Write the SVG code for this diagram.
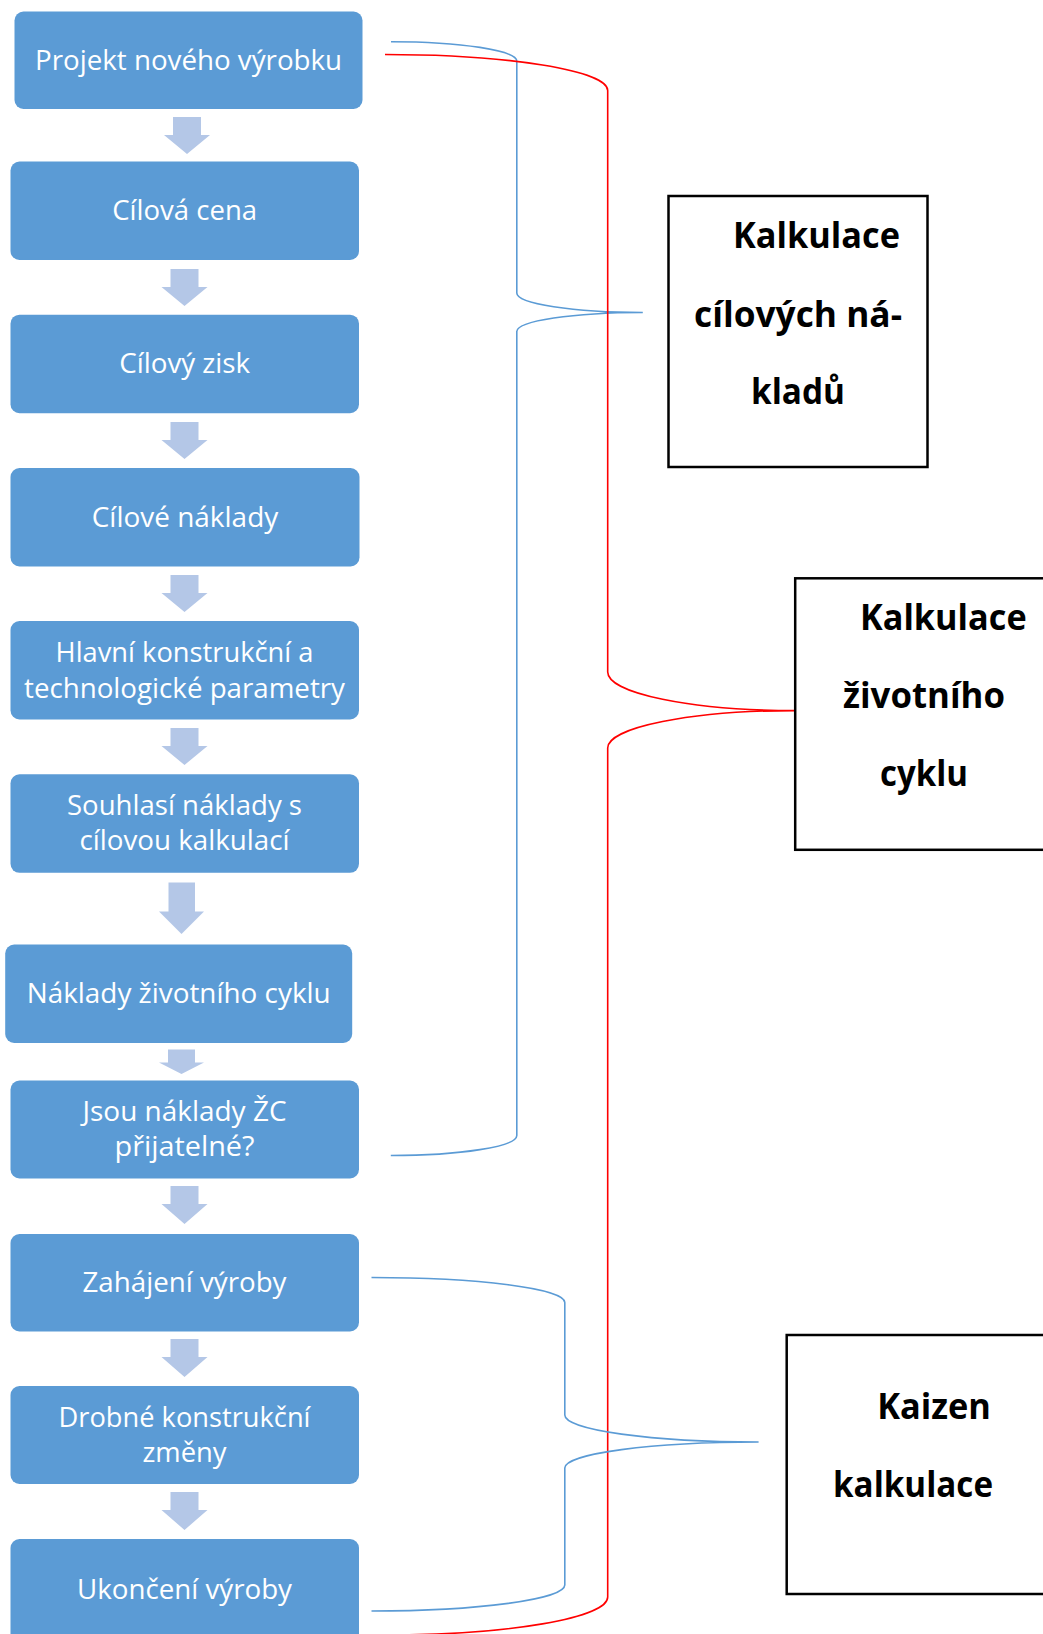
<svg xmlns="http://www.w3.org/2000/svg" width="1043" height="1634" viewBox="0 0 1043 1634">
<style>
.box{fill:#5B9BD5;}
.arr{fill:#B4C7E7;}
.t{font-family:"Open Sans","Liberation Sans",sans-serif;font-size:27px;fill:#FFFFFF;text-anchor:middle;}
.rb{fill:#FFFFFF;stroke:#000000;stroke-width:2.5;}
.bt{font-family:"Open Sans","Liberation Sans",sans-serif;font-size:35px;font-weight:bold;fill:#000000;text-anchor:middle;}
.blue{fill:none;stroke:#5B9BD5;stroke-width:1.6;}
.red{fill:none;stroke:#FF0000;stroke-width:1.6;}
</style>
<rect width="1043" height="1634" fill="#FFFFFF"/>

<g id="arrows">
<path class="arr" d="M173 117 H201 V135 H210 L187 154 L164 135 H173 Z"/>
<path class="arr" d="M170.5 269 H198.5 V287 H207.5 L184.5 306 L161.5 287 H170.5 Z"/>
<path class="arr" d="M170.5 422 H198.5 V440 H207.5 L184.5 459 L161.5 440 H170.5 Z"/>
<path class="arr" d="M170.5 575 H198.5 V593 H207.5 L184.5 612 L161.5 593 H170.5 Z"/>
<path class="arr" d="M170.5 728 H198.5 V746 H207.5 L184.5 765 L161.5 746 H170.5 Z"/>
<path class="arr" d="M168.5 882.5 H195 V911.5 H204 L181.5 934 L159 911.5 H168.5 Z"/>
<path class="arr" d="M168 1049.5 H195 V1062.5 H204 L181.5 1074 L159 1062.5 H168 Z"/>
<path class="arr" d="M170.5 1186 H198.5 V1204 H207.5 L184.5 1224 L161.5 1204 H170.5 Z"/>
<path class="arr" d="M170.5 1339 H198.5 V1357 H207.5 L184.5 1377 L161.5 1357 H170.5 Z"/>
<path class="arr" d="M170.5 1492 H198.5 V1510 H207.5 L184.5 1530 L161.5 1510 H170.5 Z"/>
</g>

<g id="n1"><rect class="box" x="14.5" y="11.5" width="348" height="97.5" rx="9"/>
<text class="t" x="188.6" y="70" textLength="307" lengthAdjust="spacingAndGlyphs">Projekt nového výrobku</text></g>
<g id="n2"><rect class="box" x="10.5" y="161.5" width="348.5" height="98.5" rx="9"/>
<text class="t" x="184.7" y="220" textLength="145" lengthAdjust="spacingAndGlyphs">Cílová cena</text></g>
<g id="n3"><rect class="box" x="10.5" y="314.7" width="348.5" height="98.5" rx="9"/>
<text class="t" x="184.7" y="373.2" textLength="131" lengthAdjust="spacingAndGlyphs">Cílový zisk</text></g>
<g id="n4"><rect class="box" x="10.5" y="468" width="349" height="98.5" rx="9"/>
<text class="t" x="185" y="526.5" textLength="186.5" lengthAdjust="spacingAndGlyphs">Cílové náklady</text></g>
<g id="n5"><rect class="box" x="10.5" y="621" width="348.5" height="98.5" rx="9"/>
<text class="t" x="184.5" y="662" textLength="258" lengthAdjust="spacingAndGlyphs">Hlavní konstrukční a</text>
<text class="t" x="184.5" y="697.5" textLength="321" lengthAdjust="spacingAndGlyphs">technologické parametry</text></g>
<g id="n6"><rect class="box" x="10.5" y="774.3" width="348.5" height="98.5" rx="9"/>
<text class="t" x="184.5" y="815" textLength="235" lengthAdjust="spacingAndGlyphs">Souhlasí náklady s</text>
<text class="t" x="184.5" y="850" textLength="210" lengthAdjust="spacingAndGlyphs">cílovou kalkulací</text></g>
<g id="n7"><rect class="box" x="5.2" y="944.5" width="347" height="98.5" rx="9"/>
<text class="t" x="178.7" y="1002.5" textLength="304" lengthAdjust="spacingAndGlyphs">Náklady životního cyklu</text></g>
<g id="n8"><rect class="box" x="10.5" y="1080.5" width="348.5" height="98" rx="9"/>
<text class="t" x="184.5" y="1121" textLength="204" lengthAdjust="spacingAndGlyphs">Jsou náklady ŽC</text>
<text class="t" x="184.5" y="1155.5" textLength="140" lengthAdjust="spacingAndGlyphs">přijatelné?</text></g>
<g id="n9"><rect class="box" x="10.5" y="1234" width="348.5" height="97.5" rx="9"/>
<text class="t" x="184.5" y="1292" textLength="204" lengthAdjust="spacingAndGlyphs">Zahájení výroby</text></g>
<g id="n10"><rect class="box" x="10.5" y="1386" width="348.5" height="98" rx="9"/>
<text class="t" x="184.5" y="1427" textLength="252" lengthAdjust="spacingAndGlyphs">Drobné konstrukční</text>
<text class="t" x="184.5" y="1461.5" textLength="84" lengthAdjust="spacingAndGlyphs">změny</text></g>
<g id="n11"><rect class="box" x="10.5" y="1539" width="348.5" height="110" rx="9"/>
<text class="t" x="184.5" y="1599" textLength="215" lengthAdjust="spacingAndGlyphs">Ukončení výroby</text></g>

<g id="connectors">
<path class="blue" d="M391 41.7 A125.8 19.5 0 0 1 516.8 61.2 L516.8 293 A126 19.5 0 0 0 642.8 312.5 A126 19 0 0 0 516.8 331.5 L516.8 1135.5 A126 20 0 0 1 390.8 1155.5"/>
<path class="red" d="M385 54.5 A222.7 36 0 0 1 607.7 90.5 L607.7 672 A187.5 38.6 0 0 0 795.2 710.6 A187.5 37.4 0 0 0 607.7 748 L607.7 1597 A222.7 38 0 0 1 385 1635"/>
<path class="blue" d="M371.5 1277.5 A193.3 25 0 0 1 564.8 1302.5 L564.8 1415 A193.8 27 0 0 0 758.6 1442 A193.8 26 0 0 0 564.8 1468 L564.8 1585 A193.3 26 0 0 1 371.5 1611"/>
</g>

<g id="kalkulace-cilovych">
<rect class="rb" x="668.5" y="196" width="259" height="271"/>
<text class="bt" x="816.5" y="248" textLength="167" lengthAdjust="spacingAndGlyphs">Kalkulace</text>
<text class="bt" x="798" y="327" textLength="208" lengthAdjust="spacingAndGlyphs">cílových ná-</text>
<text class="bt" x="798" y="404" textLength="94" lengthAdjust="spacingAndGlyphs">kladů</text>
</g>
<g id="kalkulace-zivotniho">
<rect class="rb" x="795.2" y="578.3" width="260" height="271.5"/>
<text class="bt" x="943.3" y="630" textLength="166.7" lengthAdjust="spacingAndGlyphs">Kalkulace</text>
<text class="bt" x="924" y="708.3" textLength="162" lengthAdjust="spacingAndGlyphs">životního</text>
<text class="bt" x="924" y="786" textLength="88" lengthAdjust="spacingAndGlyphs">cyklu</text>
</g>
<g id="kaizen">
<rect class="rb" x="786.7" y="1335" width="270" height="259"/>
<text class="bt" x="934" y="1419.3" textLength="113.7" lengthAdjust="spacingAndGlyphs">Kaizen</text>
<text class="bt" x="913" y="1496.7" textLength="160" lengthAdjust="spacingAndGlyphs">kalkulace</text>
</g>
</svg>
